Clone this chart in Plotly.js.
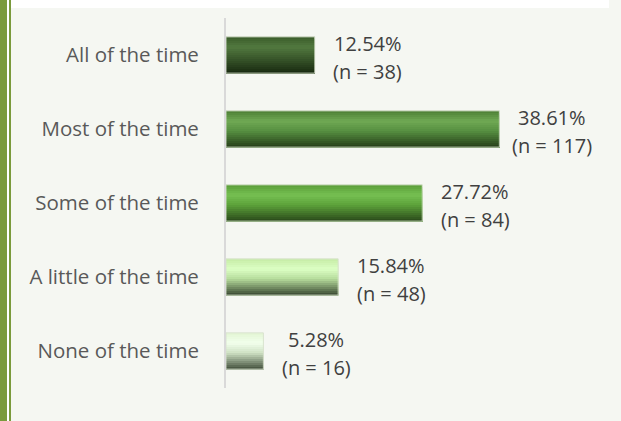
<!DOCTYPE html>
<html>
<head>
<meta charset="utf-8">
<script src="https://cdn.plot.ly/plotly-3.0.1.min.js"></script>
<style>
  html, body { margin: 0; padding: 0; background: #ffffff; }
  #chart { width: 621px; height: 421px; }
</style>
</head>
<body>
<div id="chart"></div>
<script>
// ---- data ----
const categories = ["All of the time", "Most of the time", "Some of the time", "A little of the time", "None of the time"];
const percents = [12.54, 38.61, 27.72, 15.84, 5.28];
const counts = [38, 117, 84, 48, 16];

// ---- styles: vertical gradient stops (top -> bottom) per category ----
const gradientStops = [
  [[0, "#3a5c2a"], [0.28, "#52793f"], [1, "#182a10"]],
  [[0, "#4c7f34"], [0.28, "#70a954"], [0.55, "#579041"], [1, "#263f18"]],
  [[0, "#5a9e38"], [0.28, "#76c052"], [0.55, "#5da33a"], [1, "#2a4a1a"]],
  [[0, "#c6eca6"], [0.28, "#dcffc4"], [0.55, "#b6dc9c"], [1, "#3a4a32"]],
  [[0, "#e2f5d4"], [0.28, "#f2ffec"], [0.55, "#cfe2c4"], [1, "#42503c"]]
];
const W = 621, H = 421;
const M = { l: 226, r: 41, t: 18, b: 33 };
const barThickness = 0.49;
const nBands = 18;

function hex2rgb(h) { return [1, 3, 5].map(k => parseInt(h.substr(k, 2), 16)); }
function colorAt(stops, t) {
  for (let k = 0; k < stops.length - 1; k++) {
    const [p0, c0] = stops[k], [p1, c1] = stops[k + 1];
    if (t <= p1) {
      const f = (t - p0) / (p1 - p0);
      const a = hex2rgb(c0), b = hex2rgb(c1);
      return "rgb(" + a.map((v, j) => Math.round(v + (b[j] - v) * f)).join(",") + ")";
    }
  }
  return stops[stops.length - 1][1];
}

const traces = [];
for (let b = 0; b < nBands; b++) {
  const start = b * barThickness / nBands;
  const t = (b + 0.5) / nBands;
  traces.push({
    type: "bar",
    orientation: "h",
    x: percents,
    y: categories,
    width: barThickness - start,
    offset: -barThickness / 2 + start,
    marker: { color: gradientStops.map(s => colorAt(s, t)), line: { width: 0 } },
    hoverinfo: "skip",
    showlegend: false
  });
}
traces.push({
  type: "bar",
  orientation: "h",
  x: percents,
  y: categories,
  width: barThickness,
  marker: { color: "rgba(0,0,0,0)", line: { color: "rgba(215,224,205,0.9)", width: 1 } },
  hoverinfo: "skip",
  showlegend: false
});

const annotations = [];
const labelFont = { family: "Open Sans, sans-serif", size: 20, color: "#404040" };
for (let i = 0; i < categories.length; i++) {
  annotations.push({
    x: percents[i], y: categories[i], xref: "x", yref: "y",
    text: percents[i].toFixed(2) + "%",
    showarrow: false, xanchor: "center", yanchor: "middle",
    xshift: 53, yshift: 12, font: labelFont
  });
  annotations.push({
    x: percents[i], y: categories[i], xref: "x", yref: "y",
    text: "(n = " + counts[i] + ")",
    showarrow: false, xanchor: "center", yanchor: "middle",
    xshift: 53, yshift: -16, font: labelFont
  });
}

// decorative frame in paper coords
const pw = W - M.l - M.r, ph = H - M.t - M.b;
const px = p => (p - M.l) / pw;
const py = p => 1 - (p - M.t) / ph;
const shapes = [
  { type: "rect", xref: "paper", yref: "paper", x0: px(11), x1: px(609), y0: py(8), y1: py(-2), fillcolor: "#ffffff", line: { width: 0 }, layer: "below" },
  { type: "rect", xref: "paper", yref: "paper", x0: px(-2), x1: px(7), y0: py(H + 2), y1: py(-2), fillcolor: "#7a9a3c", line: { width: 0 }, layer: "below" },
  { type: "rect", xref: "paper", yref: "paper", x0: px(7), x1: px(9), y0: py(H + 2), y1: py(-2), fillcolor: "#ffffff", line: { width: 0 }, layer: "below" },
  { type: "rect", xref: "paper", yref: "paper", x0: px(9), x1: px(11), y0: py(H + 2), y1: py(-2), fillcolor: "#7a9a3c", line: { width: 0 }, layer: "below" }
];

const layout = {
  width: W, height: H,
  margin: M,
  paper_bgcolor: "#f5f7f2",
  plot_bgcolor: "rgba(0,0,0,0)",
  barmode: "overlay",
  showlegend: false,
  font: { family: "Open Sans, sans-serif", color: "#595959" },
  xaxis: { range: [0, 50], visible: false, showgrid: false, zeroline: false, fixedrange: true },
  yaxis: {
    type: "category",
    autorange: "reversed",
    showline: true, linecolor: "#d9d9d9", linewidth: 2,
    ticks: "", showgrid: false, zeroline: false,
    tickfont: { family: "Open Sans, sans-serif", size: 20.5, color: "#595959" },
    ticklabelstandoff: 21,
    fixedrange: true
  },
  annotations: annotations,
  shapes: shapes
};

Plotly.newPlot("chart", traces, layout, { displayModeBar: false, staticPlot: true });
</script>
</body>
</html>
